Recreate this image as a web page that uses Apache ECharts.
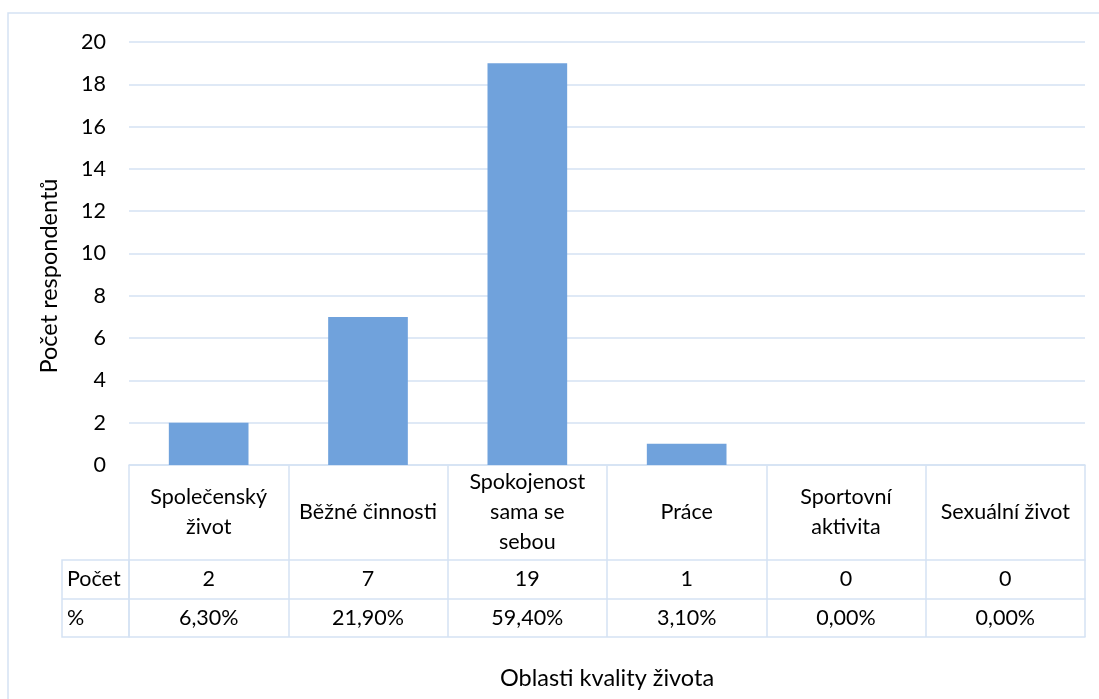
<!DOCTYPE html>
<html>
<head>
<meta charset="utf-8">
<script src="https://cdn.jsdelivr.net/npm/echarts@6/dist/echarts.min.js"></script>
<style>
html,body{margin:0;padding:0;background:#fff;}
#chart{width:1099px;height:699px;}
</style>
</head>
<body>
<div id="chart"></div>
<script>
// ---- data ----
var categories = ['Společenský\nživot', 'Běžné činnosti', 'Spokojenost\nsama se\nsebou', 'Práce', 'Sportovní\naktivita', 'Sexuální život'];
var counts = [2, 7, 19, 1, 0, 0];
var percents = ['6,30%', '21,90%', '59,40%', '3,10%', '0,00%', '0,00%'];
var rowHeaders = ['Počet', '%'];
var yTicks = [0, 2, 4, 6, 8, 10, 12, 14, 16, 18, 20];
var xTitle = 'Oblasti kvality života';
var yTitle = 'Počet respondentů';

var FONT = 'Lato, "Open Sans", sans-serif';
var FS = 21.5;
var TFS = 23.5;
var BORDER = '#d5e2f3';
var TXT = '#000000';

var chart = echarts.init(document.getElementById('chart'));

var gridLeft = 129, gridRight = 14, gridTop = 42, gridBottom = 234;
var row0 = 95, row1 = 39, row2 = 38;

function tableAxis(idx, offset, data, tickLen, showLabel) {
  return {
    type: 'category',
    gridIndex: 0,
    position: 'bottom',
    offset: offset,
    data: data,
    boundaryGap: true,
    axisLine: {show: true, lineStyle: {color: BORDER, width: 1.5}},
    axisTick: {show: tickLen > 0, length: tickLen, interval: 0, lineStyle: {color: BORDER, width: 1.5}},
    axisLabel: {show: showLabel, interval: 0, margin: tickLen / 2, verticalAlign: 'middle',
      fontFamily: FONT, fontSize: FS, color: TXT, lineHeight: 30},
    splitLine: {show: false}
  };
}

var option = {
  animation: false,
  backgroundColor: '#ffffff',
  grid: {left: gridLeft, right: gridRight, top: gridTop, bottom: gridBottom, containLabel: false},
  xAxis: [
    tableAxis(0, 0, categories, row0, true),
    tableAxis(1, row0, counts.map(String), row1, true),
    tableAxis(2, row0 + row1, percents, row2, true),
    tableAxis(3, row0 + row1 + row2, categories.map(function(){return '';}), 0, false)
  ],
  yAxis: {
    type: 'value',
    min: yTicks[0],
    max: yTicks[yTicks.length - 1],
    interval: yTicks[1] - yTicks[0],
    axisLine: {show: false},
    axisTick: {show: false},
    axisLabel: {margin: 23, fontFamily: FONT, fontSize: FS, color: TXT},
    splitLine: {show: true, lineStyle: {color: BORDER, width: 1.5}}
  },
  series: [{
    type: 'bar',
    xAxisIndex: 0,
    data: counts,
    barWidth: '50%',
    itemStyle: {color: '#70a2dc'}
  }],
  graphic: [
    // outer chart border (top & left visible)
    {type: 'polyline', shape: {points: [[8, 699], [8, 13], [1099, 13]]}, style: {stroke: BORDER, lineWidth: 1.5, fill: null}, silent: true},
    // row header cells
    {type: 'rect', shape: {x: 62, y: 465 + row0, width: gridLeft - 62, height: row1 + row2}, style: {stroke: BORDER, lineWidth: 1.5, fill: null}, silent: true},
    {type: 'line', shape: {x1: 62, y1: 465 + row0 + row1, x2: gridLeft, y2: 465 + row0 + row1}, style: {stroke: BORDER, lineWidth: 1.5}, silent: true},
    {type: 'text', x: 67, y: 465 + row0 + row1 / 2, style: {text: rowHeaders[0], font: FS + 'px ' + FONT, fill: TXT, textAlign: 'left', textVerticalAlign: 'middle'}, silent: true},
    {type: 'text', x: 67, y: 465 + row0 + row1 + row2 / 2, style: {text: rowHeaders[1], font: FS + 'px ' + FONT, fill: TXT, textAlign: 'left', textVerticalAlign: 'middle'}, silent: true},
    // axis titles
    {type: 'text', x: 607, y: 678, style: {text: xTitle, font: TFS + 'px ' + FONT, fill: TXT, textAlign: 'center', textVerticalAlign: 'middle'}, silent: true},
    {type: 'text', x: 49, y: 276, rotation: Math.PI / 2, style: {text: yTitle, font: TFS + 'px ' + FONT, fill: TXT, textAlign: 'center', textVerticalAlign: 'middle'}, silent: true}
  ]
};

chart.setOption(option);
</script>
</body>
</html>
